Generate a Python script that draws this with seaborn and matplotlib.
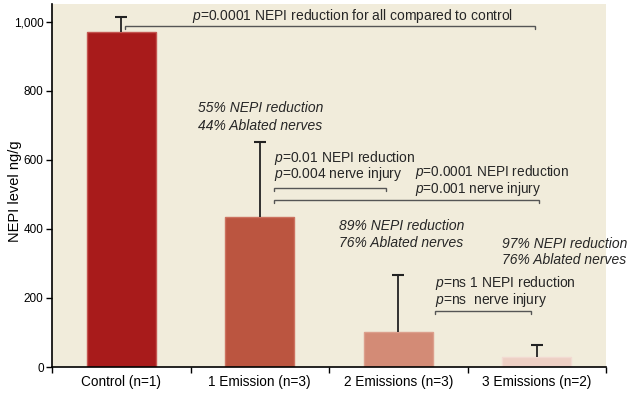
import matplotlib
matplotlib.use("Agg")
import matplotlib.pyplot as plt
from matplotlib.ticker import FuncFormatter, FixedLocator
import seaborn as sns
import pandas as pd

categories = ["Control (n=1)", "1 Emission (n=3)", "2 Emissions (n=3)", "3 Emissions (n=2)"]
nepi_values = [971, 434, 101, 28]
nepi_err_upper = [43, 217, 166, 37]
bar_colors = ["#A81B1B", "#BB5540", "#D38B76", "#EDCFC4"]
edge_colors = ["#C45550", "#CC7260", "#DC9F8C", "#F2DAD2"]
y_ticks = [0, 200, 400, 600, 800, 1000]

sns.set_theme(style="white")
FONT = ["Liberation Sans", "DejaVu Sans"]
plt.rcParams["font.family"] = FONT
plt.rcParams["mathtext.fontset"] = "custom"
plt.rcParams["mathtext.rm"] = "Liberation Sans"
plt.rcParams["mathtext.it"] = "Liberation Sans:italic"

df = pd.DataFrame({"group": categories, "nepi": nepi_values})

fig = plt.figure(figsize=(6.33, 3.93), dpi=100)
ax = fig.add_axes([52 / 633, 26 / 393, 554 / 633, 363 / 393])
ax.set_facecolor("#F1ECDB")

sns.barplot(data=df, x="group", y="nepi", hue="group", palette=bar_colors,
            order=categories, hue_order=categories, width=0.5, legend=False,
            errorbar=None, ax=ax, saturation=1, linewidth=1.0)
for patch, ec in zip(ax.patches, edge_colors):
    patch.set_edgecolor(ec)

tops = [v + e for v, e in zip(nepi_values, nepi_err_upper)]
xs = list(range(len(categories)))
ax.vlines(xs, nepi_values, tops, color="#222222", lw=1.3, zorder=3)
ax.plot(xs, tops, linestyle="none", marker="_", markersize=9, markeredgewidth=1.5,
        color="#222222", zorder=3)

ax.set_xlim(-0.5, 3.5)
ax.set_ylim(0, 1052)
ax.set_yticks(y_ticks)
ax.yaxis.set_major_formatter(FuncFormatter(lambda v, p: f"{v:,.0f}"))
ax.set_xticks(xs)
ax.set_xticklabels(categories)
ax.xaxis.set_minor_locator(FixedLocator([-0.5, 0.5, 1.5, 2.5, 3.5]))
ax.tick_params(axis="x", which="major", length=0, labelsize=9.8, pad=6, colors="black")
ax.tick_params(axis="x", which="minor", length=4, width=1, color="black", bottom=True)
ax.tick_params(axis="y", length=4, width=1, color="black", left=True, labelsize=8.5, pad=2, labelcolor="black")
ax.set_xlabel("")
ax.set_ylabel("NEPI level ng/g", fontsize=10.5, color="black", va="center")
ax.yaxis.set_label_coords((15 - 52) / 554, (367 - 191) / 363)

for s in ["top", "right"]:
    ax.spines[s].set_visible(False)
for s in ["left", "bottom"]:
    ax.spines[s].set_color("black")
    ax.spines[s].set_linewidth(1.2)

bracket_color = "#555555"

def bracket(x0, x1, y, h=8):
    ax.plot([x0, x0, x1, x1], [y - h, y, y, y - h], color=bracket_color, lw=1.0,
            solid_joinstyle="miter", zorder=2)

fs = 10
bracket(0.027, 2.987, 988)
ax.text(0.511, 1016, r"$p$=0.0001 NEPI reduction for all compared to control", fontsize=fs, va="center", ha="left")

ax.text(0.554, 750, "55% NEPI reduction", fontsize=fs, style="italic", va="center", ha="left")
ax.text(0.554, 698, "44% Ablated nerves", fontsize=fs, style="italic", va="center", ha="left")

ax.text(1.103, 605, r"$p$=0.01 NEPI reduction", fontsize=fs, va="center", ha="left")
ax.text(1.103, 558, r"$p$=0.004 nerve injury", fontsize=fs, va="center", ha="left")
bracket(1.103, 1.912, 519)

ax.text(2.121, 565, r"$p$=0.0001 NEPI reduction", fontsize=9.8, va="center", ha="left")
ax.text(2.121, 515, r"$p$=0.001 nerve injury", fontsize=9.8, va="center", ha="left")
bracket(1.103, 3.016, 483)

ax.text(1.572, 408, "89% NEPI reduction", fontsize=fs, style="italic", va="center", ha="left")
ax.text(1.572, 359, "76% Ablated nerves", fontsize=fs, style="italic", va="center", ha="left")

ax.text(2.749, 356, "97% NEPI reduction", fontsize=fs, style="italic", va="center", ha="left", clip_on=False)
ax.text(2.749, 309, "76% Ablated nerves", fontsize=fs, style="italic", va="center", ha="left", clip_on=False)

ax.text(2.265, 243, r"$p$=ns 1 NEPI reduction", fontsize=fs, va="center", ha="left")
ax.text(2.265, 193, r"$p$=ns  nerve injury", fontsize=fs, va="center", ha="left")
bracket(2.265, 2.958, 161)

fig.savefig("out.png", dpi=100, facecolor="white")
